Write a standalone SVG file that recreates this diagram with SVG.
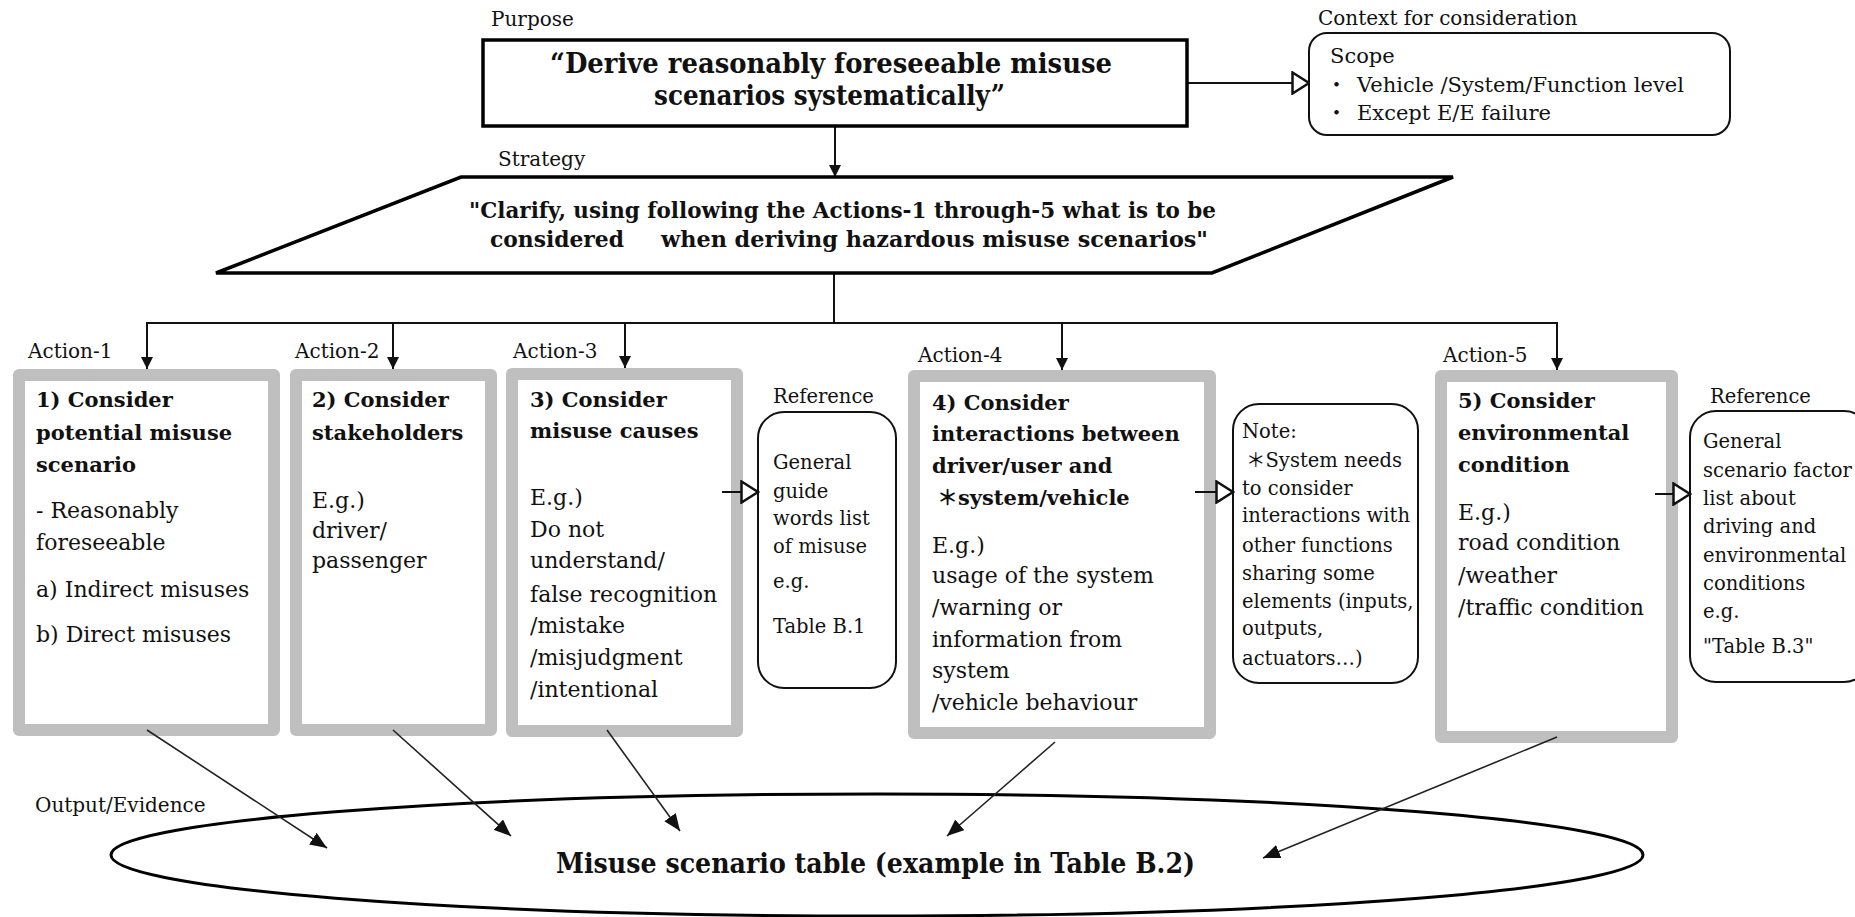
<svg xmlns="http://www.w3.org/2000/svg" width="1855" height="917" viewBox="0 0 1855 917">
  <style>
    text { font-family: "DejaVu Serif", "Noto Sans CJK JP", serif; fill: #111; }
    .b { font-weight: bold; font-size: 21px; }
    .r { font-size: 22px; }
    .s { font-size: 19.5px; }
    .lbl { font-size: 20px; }
    .ctx { font-size: 21px; }
    .act { fill: #fff; stroke: #bfbfbf; stroke-width: 12; stroke-linejoin: round; }
    .side { fill: #fff; stroke: #111; stroke-width: 2; }
    .frame { fill: #fff; stroke: #000; stroke-width: 3.5; }
    .con { stroke: #111; stroke-width: 2; fill: none; }
    .out { stroke: #222; stroke-width: 1.6; fill: none; }
  </style>
  <defs>
    <marker id="tip" markerUnits="userSpaceOnUse" markerWidth="12" markerHeight="12" refX="12" refY="6" orient="auto">
      <path d="M0,0 L12,6 L0,12 z" fill="#111"/>
    </marker>
    <marker id="tipOut" markerUnits="userSpaceOnUse" markerWidth="18" markerHeight="14" refX="17" refY="7" orient="auto">
      <path d="M0,0 L17,7 L0,14 z" fill="#111"/>
    </marker>
    <marker id="open" markerUnits="userSpaceOnUse" markerWidth="20" markerHeight="24" refX="18" refY="12" orient="auto">
      <path d="M1.5,1.5 L18,12 L1.5,22.5 z" fill="#fff" stroke="#111" stroke-width="2.5" stroke-linejoin="miter"/>
    </marker>
  </defs>

  <!-- section labels -->
  <g id="labels">
    <text class="lbl" x="491" y="26">Purpose</text>
    <text class="lbl" x="1318" y="25">Context for consideration</text>
    <text class="lbl" x="498" y="166">Strategy</text>
    <text class="lbl" x="28" y="358">Action-1</text>
    <text class="lbl" x="295" y="358">Action-2</text>
    <text class="lbl" x="513" y="358">Action-3</text>
    <text class="lbl" x="918" y="362">Action-4</text>
    <text class="lbl" x="1443" y="362">Action-5</text>
    <text class="lbl" x="35" y="812">Output/Evidence</text>
  </g>

  <!-- connectors -->
  <g id="connectors">
    <line class="con" x1="1187" y1="83" x2="1309" y2="83" marker-end="url(#open)"/>
    <line class="con" x1="835" y1="126" x2="835" y2="177" marker-end="url(#tip)"/>
    <line class="con" x1="834" y1="273" x2="834" y2="323"/>
    <line class="con" x1="146" y1="323" x2="1558" y2="323"/>
    <line class="con" x1="147" y1="323" x2="147" y2="369" marker-end="url(#tip)"/>
    <line class="con" x1="393" y1="323" x2="393" y2="369" marker-end="url(#tip)"/>
    <line class="con" x1="625" y1="323" x2="625" y2="368" marker-end="url(#tip)"/>
    <line class="con" x1="1062" y1="323" x2="1062" y2="370" marker-end="url(#tip)"/>
    <line class="con" x1="1557" y1="323" x2="1557" y2="370" marker-end="url(#tip)"/>
  </g>

  <!-- purpose -->
  <g id="purpose">
    <rect class="frame" x="483" y="40" width="704" height="86"/>
    <text x="550" y="73" font-size="27" font-weight="bold" textLength="562" lengthAdjust="spacingAndGlyphs">“Derive reasonably foreseeable misuse</text>
    <text x="654" y="105" font-size="27" font-weight="bold" textLength="351" lengthAdjust="spacingAndGlyphs">scenarios systematically”</text>
  </g>

  <!-- context -->
  <g id="context">
    <rect class="side" x="1309" y="33" width="421" height="102" rx="18"/>
    <text class="ctx" x="1330" y="63">Scope</text>
    <text class="ctx" x="1326" y="92">・</text>
    <text class="ctx" x="1357" y="92">Vehicle /System/Function level</text>
    <text class="ctx" x="1326" y="120">・</text>
    <text class="ctx" x="1357" y="120">Except E/E failure</text>
  </g>

  <!-- strategy -->
  <g id="strategy">
    <polygon class="frame" points="461,177 1453,177 1212,273 216,273"/>
    <text x="469" y="218" font-size="23" font-weight="bold" textLength="747" lengthAdjust="spacingAndGlyphs">"Clarify, using following the Actions-1 through-5 what is to be</text>
    <text x="490" y="247" font-size="23" font-weight="bold" textLength="134" lengthAdjust="spacingAndGlyphs">considered</text>
    <text x="661" y="247" font-size="23" font-weight="bold" textLength="547" lengthAdjust="spacingAndGlyphs">when deriving hazardous misuse scenarios"</text>
  </g>

  <!-- action 1 -->
  <g id="action1">
    <rect class="act" x="19" y="375" width="255" height="355"/>
    <text class="b" x="36" y="407">1) Consider</text>
    <text class="b" x="36" y="440">potential misuse</text>
    <text class="b" x="36" y="472">scenario</text>
    <text class="r" x="36" y="518">- Reasonably</text>
    <text class="r" x="36" y="550">foreseeable</text>
    <text class="r" x="36" y="597">a) Indirect misuses</text>
    <text class="r" x="36" y="642">b) Direct misuses</text>
  </g>

  <!-- action 2 -->
  <g id="action2">
    <rect class="act" x="296" y="375" width="195" height="355"/>
    <text class="b" x="312" y="407">2) Consider</text>
    <text class="b" x="312" y="440">stakeholders</text>
    <text class="r" x="312" y="508">E.g.)</text>
    <text class="r" x="312" y="538">driver/</text>
    <text class="r" x="312" y="568">passenger</text>
  </g>

  <!-- action 3 -->
  <g id="action3">
    <rect class="act" x="512" y="374" width="225" height="357"/>
    <text class="b" x="530" y="407">3) Consider</text>
    <text class="b" x="530" y="438">misuse causes</text>
    <text class="r" x="530" y="505">E.g.)</text>
    <text class="r" x="530" y="537">Do not</text>
    <text class="r" x="530" y="568">understand/</text>
    <text class="r" x="530" y="602">false recognition</text>
    <text class="r" x="530" y="633">/mistake</text>
    <text class="r" x="530" y="665">/misjudgment</text>
    <text class="r" x="530" y="697">/intentional</text>
  </g>

  <!-- reference for action 3 -->
  <g id="reference1">
    <text class="s" x="773" y="403" font-size="18.5">Reference</text>
    <rect class="side" x="758" y="412" width="138" height="276" rx="26"/>
    <text class="s" x="773" y="469">General</text>
    <text class="s" x="773" y="498">guide</text>
    <text class="s" x="773" y="525">words list</text>
    <text class="s" x="773" y="553">of misuse</text>
    <text class="s" x="773" y="588">e.g.</text>
    <text class="s" x="773" y="633">Table B.1</text>
  </g>

  <!-- action 4 -->
  <g id="action4">
    <rect class="act" x="914" y="376" width="296" height="357"/>
    <text class="b" x="932" y="410">4) Consider</text>
    <text class="b" x="932" y="441">interactions between</text>
    <text class="b" x="932" y="473">driver/user and</text>
    <text class="b" x="937" y="505">＊system/vehicle</text>
    <text class="r" x="932" y="553">E.g.)</text>
    <text class="r" x="932" y="583">usage of the system</text>
    <text class="r" x="932" y="615">/warning or</text>
    <text class="r" x="932" y="647">information from</text>
    <text class="r" x="932" y="678">system</text>
    <text class="r" x="932" y="710">/vehicle behaviour</text>
  </g>

  <!-- note for action 4 -->
  <g id="note">
    <rect class="side" x="1233" y="404" width="185" height="279" rx="26"/>
    <text class="s" x="1242" y="438">Note:</text>
    <text class="s" x="1246" y="467">＊System needs</text>
    <text class="s" x="1242" y="495">to consider</text>
    <text class="s" x="1242" y="522">interactions with</text>
    <text class="s" x="1242" y="552">other functions</text>
    <text class="s" x="1242" y="580">sharing some</text>
    <text class="s" x="1242" y="608">elements (inputs,</text>
    <text class="s" x="1242" y="635">outputs,</text>
    <text class="s" x="1242" y="665">actuators…)</text>
  </g>

  <!-- action 5 -->
  <g id="action5">
    <rect class="act" x="1441" y="376" width="231" height="361"/>
    <text class="b" x="1458" y="408">5) Consider</text>
    <text class="b" x="1458" y="440">environmental</text>
    <text class="b" x="1458" y="472">condition</text>
    <text class="r" x="1458" y="520">E.g.)</text>
    <text class="r" x="1458" y="550">road condition</text>
    <text class="r" x="1458" y="583">/weather</text>
    <text class="r" x="1458" y="615">/traffic condition</text>
  </g>

  <!-- reference for action 5 -->
  <g id="reference2">
    <text class="s" x="1710" y="403" font-size="18.5">Reference</text>
    <rect class="side" x="1690" y="411" width="180" height="271" rx="26"/>
    <text class="s" x="1703" y="448">General</text>
    <text class="s" x="1703" y="477">scenario factor</text>
    <text class="s" x="1703" y="505">list about</text>
    <text class="s" x="1703" y="533">driving and</text>
    <text class="s" x="1703" y="562">environmental</text>
    <text class="s" x="1703" y="590">conditions</text>
    <text class="s" x="1703" y="618">e.g.</text>
    <text class="s" x="1703" y="653">"Table B.3"</text>
  </g>

  <!-- output -->
  <g id="output">
    <ellipse cx="877" cy="855" rx="766" ry="61" fill="none" stroke="#000" stroke-width="3"/>
    <text x="556" y="873" font-size="28" font-weight="bold" textLength="639" lengthAdjust="spacingAndGlyphs">Misuse scenario table (example in Table B.2)</text>
  </g>

  <!-- side and output links -->
  <g id="links">
    <line class="con" x1="722" y1="492" x2="758" y2="492" marker-end="url(#open)"/>
    <line class="con" x1="1195" y1="492" x2="1233" y2="492" marker-end="url(#open)"/>
    <line class="con" x1="1655" y1="494" x2="1690" y2="494" marker-end="url(#open)"/>
    <line class="out" x1="147" y1="730" x2="327" y2="848" marker-end="url(#tipOut)"/>
    <line class="out" x1="393" y1="730" x2="511" y2="836" marker-end="url(#tipOut)"/>
    <line class="out" x1="607" y1="730" x2="680" y2="831" marker-end="url(#tipOut)"/>
    <line class="out" x1="1055" y1="742" x2="947" y2="836" marker-end="url(#tipOut)"/>
    <line class="out" x1="1557" y1="737" x2="1263" y2="858" marker-end="url(#tipOut)"/>
  </g>
</svg>
